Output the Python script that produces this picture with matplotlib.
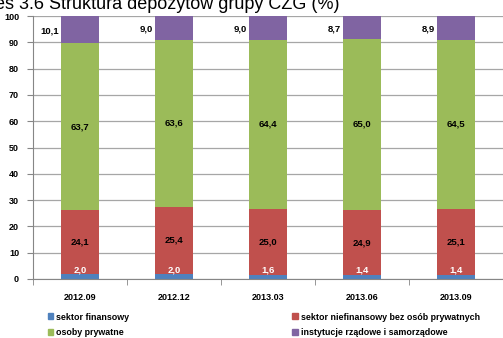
import numpy as np
import matplotlib.pyplot as plt
from matplotlib.patches import Patch

# data (in %)
periods = ["2012.09", "2012.12", "2013.03", "2013.06", "2013.09"]
sektor_fin = [2.0, 2.0, 1.6, 1.4, 1.4]
sektor_niefin = [24.1, 25.4, 25.0, 24.9, 25.1]
osoby = [63.7, 63.6, 64.4, 65.0, 64.5]
instytucje = [10.1, 9.0, 9.0, 8.7, 8.9]

series_names = ["sektor finansowy", "sektor niefinansowy bez osób prywatnych",
                "osoby prywatne", "instytucje rządowe i samorządowe"]
colors = ["#4F81BD", "#C0504D", "#9BBB59", "#8064A2"]

plt.rcParams['font.family'] = ['Liberation Sans', 'DejaVu Sans']

fig = plt.figure(figsize=(5.03, 3.38), dpi=100)
ax = fig.add_axes([33/503, 59/338, 470/503, 263/338])

x = np.arange(len(periods))
w = 0.4
bottom = np.zeros(len(periods))
all_series = [sektor_fin, sektor_niefin, osoby, instytucje]
for vals, col in zip(all_series, colors):
    ax.bar(x, vals, w, bottom=bottom, color=col, zorder=2)
    bottom = bottom + np.array(vals)

# value labels
lab = lambda v: f"{v:.1f}".replace(".", ",")
fs = 6.8
for i in range(len(periods)):
    ax.text(x[i], 3.3, lab(sektor_fin[i]), ha='center', va='center',
            color='white', fontsize=fs, fontweight='bold', zorder=3)
    b0 = sektor_fin[i]
    ax.text(x[i], b0 + sektor_niefin[i] / 2, lab(sektor_niefin[i]), ha='center', va='center',
            color='black', fontsize=fs, fontweight='bold', zorder=3)
    b0 += sektor_niefin[i]
    ax.text(x[i], b0 + osoby[i] / 2, lab(osoby[i]), ha='center', va='center',
            color='black', fontsize=fs, fontweight='bold', zorder=3)
    b0 += osoby[i]
    ax.text(x[i] - w / 2 - 0.02, b0 + instytucje[i] / 2 - 0.5, lab(instytucje[i]), ha='right',
            va='center', color='black', fontsize=fs, fontweight='bold', zorder=3)

ax.set_xlim(-0.5, len(periods) - 0.5)
ax.set_ylim(0, 100)
ax.set_yticks(range(0, 101, 10))
ax.yaxis.grid(True, color='#A6A6A6', lw=0.9, zorder=0)
ax.set_xticks(x)
ax.set_xticklabels(periods, fontsize=6.5, fontweight='bold')
ax.set_xticks(np.arange(-0.5, len(periods), 1), minor=True)
ax.tick_params(axis='x', which='major', length=0, pad=10)
ax.tick_params(axis='x', which='minor', length=4, color='#868686', direction='out')
ax.tick_params(axis='y', length=4, color='#868686', labelsize=6.5, pad=6)
for lbl in ax.get_yticklabels():
    lbl.set_fontweight('bold')
for s in ['top', 'right']:
    ax.spines[s].set_visible(False)
ax.spines['left'].set_color('#868686')
ax.spines['bottom'].set_color('#868686')

# title, cut at the top like in the source
fig.text(340/503, 1 - 9/338, "Wykres 3.6 Struktura depozytów grupy CZG (%)", ha='right',
         va='baseline', fontsize=13)

handles = [Patch(color=c) for c in colors]
order = [0, 2, 1, 3]
fig.legend([handles[k] for k in order], [series_names[k] for k in order], ncol=2,
           loc='upper left', bbox_to_anchor=(44/503, 1 - 309/338), frameon=False,
           handlelength=0.65, handleheight=0.65, handletextpad=0.35,
           columnspacing=18.3, labelspacing=0.75, borderaxespad=0,
           prop={'weight': 'bold', 'size': 6.4})

fig.savefig("out.png", dpi=100)
